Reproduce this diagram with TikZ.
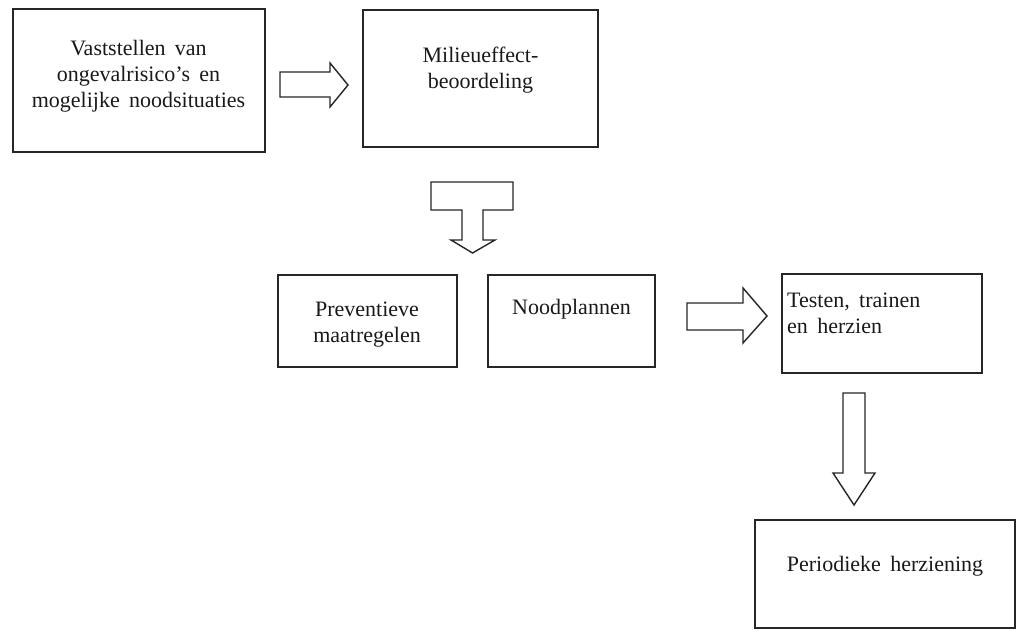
\documentclass[tikz,border=0pt]{standalone}
\usepackage{fontspec}
\setmainfont{Liberation Serif}[WordSpace=1.7]
\begin{document}
\begin{tikzpicture}[x=1pt, y=-1pt,
    caja/.style={draw=black!85, line width=2pt, inner sep=0pt},
    texto/.style={inner sep=0pt, align=center, font=\fontsize{22}{26}\selectfont, text=black!90},
    flecha/.style={draw=black!85, line width=1.4pt, line join=miter, fill=white}]
    \useasboundingbox (0,0) rectangle (1024,631);
    % Cajas
    \node[caja, minimum width=252pt, minimum height=143pt] (vaststellen) at (138.5,81) {};
    \node[caja, minimum width=235pt, minimum height=137pt] (milieu) at (480.5,78.5) {};
    \node[caja, minimum width=179pt, minimum height=92pt] (preventie) at (367,321) {};
    \node[caja, minimum width=167pt, minimum height=92pt] (noodplan) at (571.5,321) {};
    \node[caja, minimum width=200pt, minimum height=99pt] (testen) at (882,323.5) {};
    \node[caja, minimum width=260pt, minimum height=108pt] (herziening) at (885,574) {};
    % Textos
    \node[texto, anchor=north] (t-vaststellen) at ([yshift=-32pt]vaststellen.north) {Vaststellen van\\ongevalrisico’s en\\mogelijke noodsituaties};
    \node[texto, anchor=north] (t-milieu) at ([yshift=-38pt]milieu.north) {Milieueffect-\\beoordeling};
    \node[texto, anchor=north] (t-preventie) at ([yshift=-28pt]preventie.north) {Preventieve\\maatregelen};
    \node[texto, anchor=north] (t-noodplan) at ([yshift=-25pt]noodplan.north) {Noodplannen};
    \node[texto, anchor=north west, align=left] (t-testen) at ([xshift=6pt, yshift=-20pt]testen.north west) {Testen, trainen\\en herzien};
    \node[texto, anchor=north] (t-herziening) at ([yshift=-37pt]herziening.north) {Periodieke herziening};
    % Flechas de bloque
    \draw[flecha] (280,72) -- (330,72) -- (330,63) -- (348,85) -- (330,107) -- (330,97) -- (280,97) -- cycle;
    \draw[flecha] (431,182) -- (513,182) -- (513,210) -- (483,210) -- (483,240) -- (495,240)
        -- (472.5,253) -- (451,240) -- (462,240) -- (462,210) -- (431,210) -- cycle;
    \draw[flecha] (687,303) -- (743,303) -- (743,288) -- (767,316) -- (743,343) -- (743,330) -- (687,330) -- cycle;
    \draw[flecha] (843,393) -- (865,393) -- (865,473) -- (875,473) -- (854,505) -- (833,473) -- (843,473) -- cycle;
\end{tikzpicture}
\end{document}
